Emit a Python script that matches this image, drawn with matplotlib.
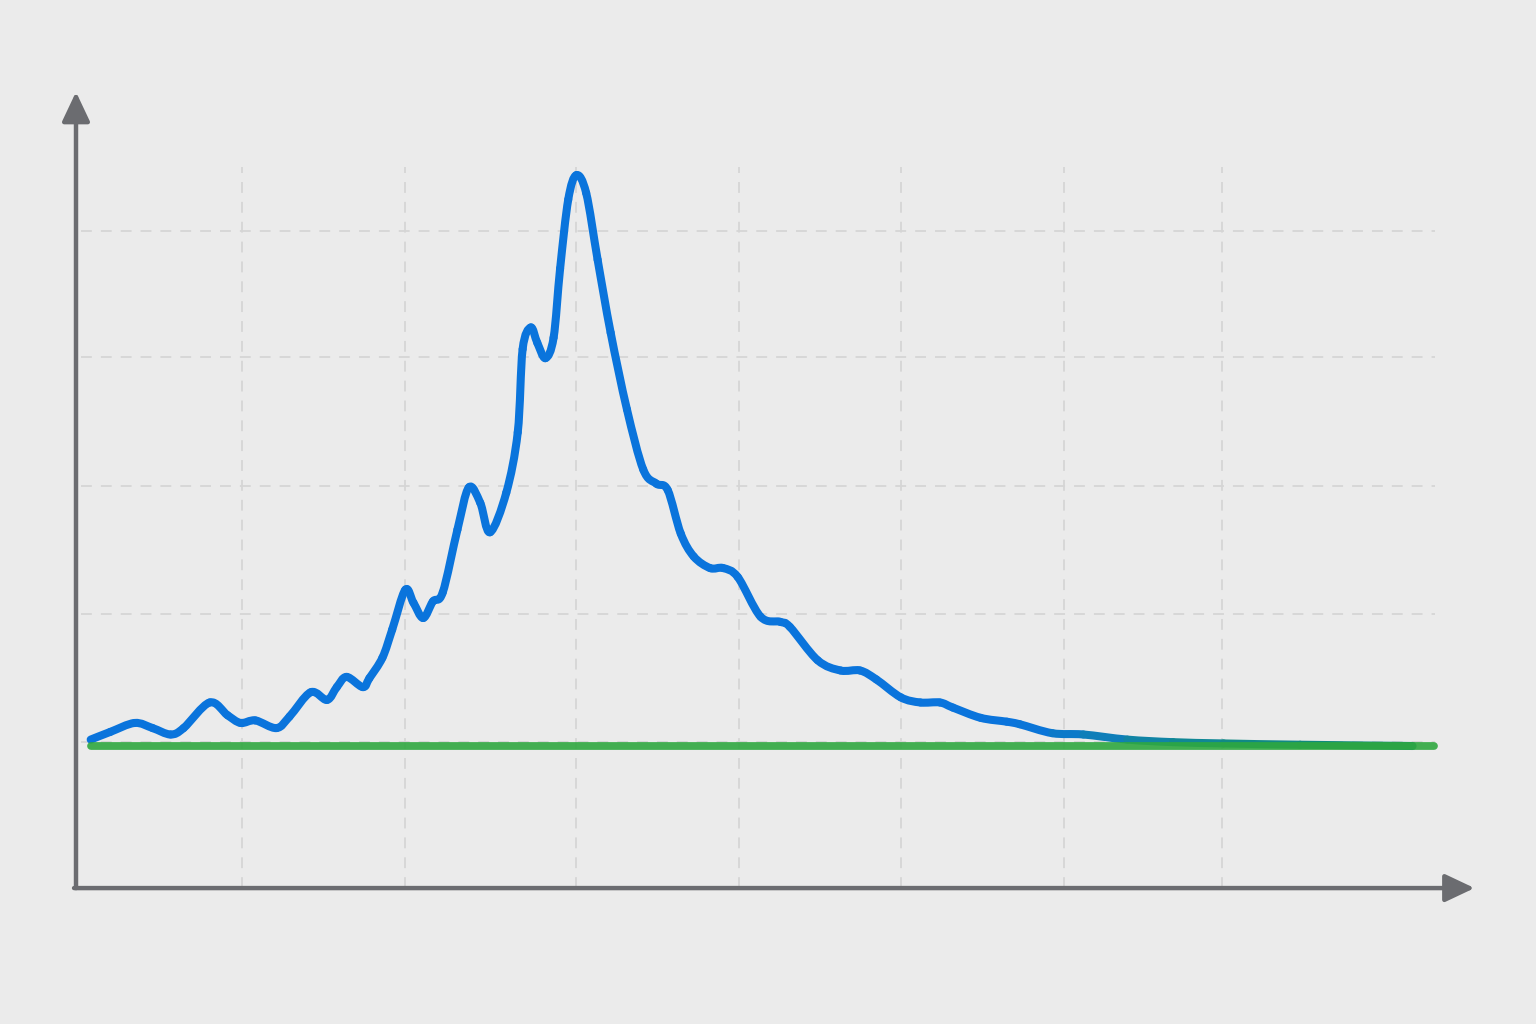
import numpy as np
import matplotlib
matplotlib.use('Agg')
import matplotlib.pyplot as plt
from matplotlib.path import Path
from matplotlib.patches import PathPatch
from matplotlib.colors import LinearSegmentedColormap

# -----------------------------
# Data (arbitrary units)
# -----------------------------
curve_x = [0.09, 0.21, 0.36, 0.47, 0.58, 0.66, 0.82, 0.93, 1.01, 1.10, 1.23, 1.31,
           1.44, 1.54, 1.60, 1.66, 1.76, 1.80, 1.88, 1.94, 2.02, 2.07, 2.13, 2.19,
           2.25, 2.34, 2.41, 2.48, 2.54, 2.64, 2.71, 2.74, 2.79, 2.83, 2.88, 2.93,
           2.97, 3.02, 3.07, 3.13, 3.20, 3.28, 3.38, 3.48, 3.56, 3.63, 3.71, 3.79,
           3.89, 3.97, 4.06, 4.20, 4.32, 4.38, 4.55, 4.69, 4.81, 4.91, 5.06, 5.18,
           5.30, 5.38, 5.55, 5.71, 5.79, 5.99, 6.18, 6.45, 6.73, 7.04, 7.51, 8.20]
curve_y = [0.05, 0.11, 0.18, 0.14, 0.09, 0.14, 0.34, 0.24, 0.18, 0.20, 0.14, 0.23,
           0.42, 0.36, 0.46, 0.54, 0.46, 0.53, 0.69, 0.91, 1.22, 1.12, 1.00, 1.13,
           1.20, 1.69, 2.02, 1.90, 1.67, 1.98, 2.45, 3.10, 3.27, 3.15, 3.03, 3.19,
           3.73, 4.27, 4.46, 4.32, 3.80, 3.23, 2.63, 2.16, 2.05, 2.00, 1.66, 1.48,
           1.39, 1.39, 1.32, 1.01, 0.97, 0.93, 0.67, 0.59, 0.59, 0.52, 0.38, 0.34,
           0.34, 0.30, 0.22, 0.19, 0.17, 0.10, 0.09, 0.05, 0.03, 0.02, 0.01, 0.00]

baseline_x = [0.09, 8.33]
baseline_y = [0.0, 0.0]

grid_x = [1.02, 2.02, 3.07, 4.07, 5.06, 6.06, 7.03]
grid_y = [0.03, 1.03, 2.03, 3.04, 4.02]

# -----------------------------
# Figure
# -----------------------------
BG = '#ebebeb'
AXIS_COLOR = '#6b6c70'
GRID_COLOR = '#d5d5d5'

fig = plt.figure(figsize=(15.36, 10.24), dpi=100, facecolor=BG)
ax = fig.add_axes([0, 0, 1, 1])
ax.set_facecolor(BG)
ax.set_xlim(-76 / 163, (1536 - 76) / 163)
ax.set_ylim((746 - 1024) / 128, 746 / 128)
ax.axis('off')

# dashed grid
for gx in grid_x:
    ax.plot([gx, gx], [-1.11, 4.52], color=GRID_COLOR, lw=1.3,
            linestyle=(0, (6, 5)), zorder=1)
for gy in grid_y:
    ax.plot([0.03, 8.34], [gy, gy], color=GRID_COLOR, lw=1.3,
            linestyle=(0, (6, 5)), zorder=1)

# axes with arrow heads
arrow_kw = dict(arrowstyle='-|>,head_length=1.8,head_width=0.85',
                color=AXIS_COLOR, lw=3.2, shrinkA=0, shrinkB=0, mutation_scale=10)
ax.annotate('', xy=(0, 5.11), xytext=(0, -1.11), arrowprops=arrow_kw, zorder=2)
ax.annotate('', xy=(8.58, -1.11), xytext=(-0.012, -1.11), arrowprops=arrow_kw, zorder=2)

# blue curve drawn as smooth bezier pieces through the read points,
# fading to teal towards the tail
pts = np.column_stack([curve_x, curve_y])
n = len(pts)
cmap = LinearSegmentedColormap.from_list('tail', ['#0a74dc', '#0a74dc', '#11869f', '#0f8a7a'])
for i in range(n - 1):
    p0 = pts[max(i - 1, 0)]
    p1 = pts[i]
    p2 = pts[i + 1]
    p3 = pts[min(i + 2, n - 1)]
    c1 = p1 + (p2 - p0) / 6
    c2 = p2 - (p3 - p1) / 6
    seg = Path([p1, c1, c2, p2], [Path.MOVETO, Path.CURVE4, Path.CURVE4, Path.CURVE4])
    t = np.clip(((p1[0] + p2[0]) / 2 - 5.0) / 2.5, 0, 1)
    ax.add_patch(PathPatch(seg, fill=False, edgecolor=cmap(t), lw=5.8,
                           capstyle='round', joinstyle='round', zorder=3))

# green baseline
ax.plot(baseline_x, baseline_y, color='#2fa840', lw=5.6, alpha=0.9,
        solid_capstyle='round', zorder=4)

fig.savefig('out.png', dpi=100, facecolor=BG)
